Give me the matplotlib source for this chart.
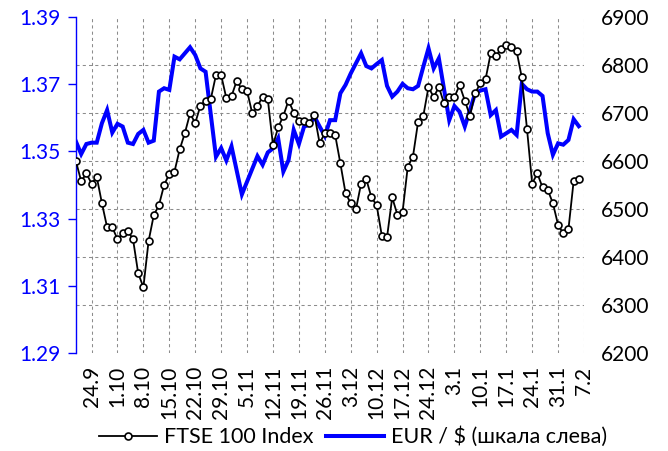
import matplotlib
matplotlib.use("Agg")
import matplotlib.pyplot as plt
import numpy as np
from matplotlib.lines import Line2D

plt.rcParams['font.family'] = ['Lato', 'Open Sans', 'DejaVu Sans']

# Business-day series (19.9 ... 6.2)
ftse = [6599, 6558, 6574, 6553, 6567, 6512, 6462, 6462, 6437, 6449,
        6454, 6437, 6366, 6337, 6433, 6487, 6508, 6550, 6573, 6578,
        6624, 6658, 6699, 6679, 6715, 6726, 6729, 6779, 6779, 6731,
        6735, 6767, 6749, 6746, 6699, 6714, 6734, 6729, 6633, 6670,
        6694, 6726, 6701, 6683, 6683, 6680, 6696, 6637, 6658, 6659,
        6654, 6595, 6533, 6512, 6499, 6553, 6562, 6524, 6508, 6444,
        6441, 6524, 6488, 6494, 6588, 6609, 6682, 6694, 6754, 6733,
        6754, 6720, 6733, 6733, 6758, 6726, 6694, 6741, 6762, 6770,
        6824, 6819, 6833, 6842, 6838, 6829, 6774, 6667, 6553, 6574,
        6545, 6540, 6512, 6467, 6449, 6458, 6558, 6562]

eurusd = [1.3529, 1.3492, 1.3522, 1.3526, 1.3526, 1.3584, 1.3623, 1.3556, 1.3582, 1.3574,
          1.3526, 1.3522, 1.3552, 1.3564, 1.3526, 1.3532, 1.3678, 1.3688, 1.3683, 1.3782,
          1.3774, 1.3792, 1.3810, 1.3787, 1.3747, 1.3737, 1.3610, 1.3484, 1.3510, 1.3473,
          1.3515, 1.3443, 1.3372, 1.3410, 1.3448, 1.3486, 1.3460, 1.3497, 1.3509, 1.3539,
          1.3440, 1.3474, 1.3564, 1.3522, 1.3574, 1.3579, 1.3603, 1.3574, 1.3546, 1.3593,
          1.3593, 1.3673, 1.3698, 1.3732, 1.3762, 1.3792, 1.3754, 1.3747, 1.3760, 1.3772,
          1.3695, 1.3663, 1.3678, 1.3701, 1.3688, 1.3685, 1.3695, 1.3752, 1.3807, 1.3747,
          1.3777, 1.3685, 1.3593, 1.3635, 1.3618, 1.3574, 1.3623, 1.3673, 1.3681, 1.3685,
          1.3608, 1.3623, 1.3544, 1.3554, 1.3564, 1.3549, 1.3701, 1.3685, 1.3678, 1.3678,
          1.3665, 1.3554, 1.3490, 1.3524, 1.3520, 1.3534, 1.3596, 1.3575]

tick_labels = ['24.9', '1.10', '8.10', '15.10', '22.10', '29.10', '5.11', '12.11',
               '19.11', '26.11', '3.12', '10.12', '17.12', '24.12', '3.1', '10.1',
               '17.1', '24.1', '31.1', '7.2']
tick_pos = [3 + 5 * i for i in range(len(tick_labels))]

left_ticks = [1.29, 1.31, 1.33, 1.35, 1.37, 1.39]
right_ticks = [6200, 6300, 6400, 6500, 6600, 6700, 6800, 6900]

FS = 15
grid_kw = dict(color='#8c8c8c', linestyle=(0, (3, 3)), linewidth=0.75)

fig = plt.figure(figsize=(6.68, 4.51), dpi=100)
ax = fig.add_axes([76 / 668, 1 - 353 / 451, (584 - 76) / 668, (353 - 17) / 451])
ax.patch.set_alpha(0)
ax2 = ax.twinx()
ax2.patch.set_alpha(0)

x = np.arange(len(eurusd))
ax.plot(x, eurusd, color='#0000ff', linewidth=2.9, solid_joinstyle='miter', zorder=3)
ax.set_xlim(0, 98)
ax.set_ylim(1.29, 1.39)
ax.set_yticks(left_ticks)
ax.set_yticklabels([f'{v:.2f}' for v in left_ticks])
# horizontal grid follows right-axis ticks
ax.set_yticks([1.29 + (v - 6200) / 700 * 0.10 for v in right_ticks], minor=True)
ax.tick_params(axis='y', which='minor', length=0)
ax.grid(True, which='minor', axis='y', **grid_kw)
ax.set_xticks(tick_pos)
ax.set_xticklabels(tick_labels, rotation=90, fontsize=FS)
ax.grid(True, which='major', axis='x', **grid_kw)
ax.set_axisbelow(True)
ax.tick_params(axis='x', length=0, pad=9)
ax.tick_params(axis='y', which='major', colors='#0000ff', labelcolor='#0000ff',
               direction='out', length=6, width=1, labelsize=FS, pad=5)
for s in ['top', 'right', 'bottom']:
    ax.spines[s].set_visible(False)
ax.spines['left'].set_color('#0000ff')
ax.spines['left'].set_linewidth(1.0)

xf = np.arange(len(ftse))
ax2.plot(xf, ftse, color='black', linewidth=1.3, marker='o', markersize=5,
         markerfacecolor='white', markeredgecolor='black', markeredgewidth=1.2, zorder=4)
ax2.set_ylim(6200, 6900)
ax2.set_yticks(right_ticks)
ax2.tick_params(axis='y', length=0, labelsize=FS, pad=12)
for s in ['top', 'right', 'bottom', 'left']:
    ax2.spines[s].set_visible(False)

handles = [Line2D([], [], color='black', linewidth=1.3, marker='o', markersize=5,
                  markerfacecolor='white', markeredgecolor='black', markeredgewidth=1.2),
           Line2D([], [], color='#0000ff', linewidth=2.9)]
fig.legend(handles, ['FTSE 100 Index', 'EUR / $ (шкала слева)'], loc='center',
           bbox_to_anchor=(353 / 668, 1 - 437 / 451), ncol=2, frameon=False,
           fontsize=15.5, handlelength=2.7, handletextpad=0.3, columnspacing=0.6,
           borderpad=0, borderaxespad=0)

fig.savefig('out.png', dpi=100)
